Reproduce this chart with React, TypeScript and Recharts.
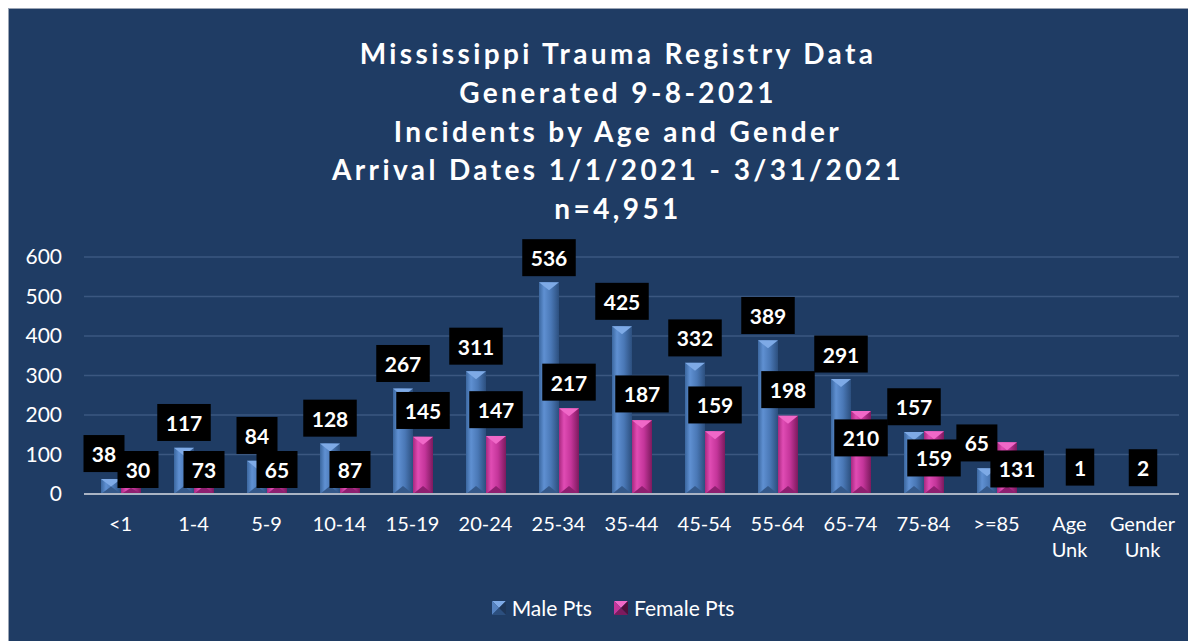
import React from 'react';
import { BarChart, Bar, XAxis, YAxis, CartesianGrid, LabelList } from 'recharts';

const ageGroups = ['<1', '1-4', '5-9', '10-14', '15-19', '20-24', '25-34', '35-44', '45-54', '55-64', '65-74', '75-84', '>=85', 'Age Unk', 'Gender Unk'];
const malePts: (number | null)[] = [38, 117, 84, 128, 267, 311, 536, 425, 332, 389, 291, 157, 65, null, 2];
const femalePts: (number | null)[] = [30, 73, 65, 87, 145, 147, 217, 187, 159, 198, 210, 159, 131, 1, null];
const yTicks = [0, 100, 200, 300, 400, 500, 600];
const titleLines = [
  'Mississippi Trauma Registry Data',
  'Generated 9-8-2021',
  'Incidents by Age and Gender',
  'Arrival Dates 1/1/2021 - 3/31/2021',
  'n=4,951',
];

const data = ageGroups.map((age, i) => ({ age, male: malePts[i], female: femalePts[i] }));

const BG = '#1f3c64';
const FONT = 'Lato, "Open Sans", sans-serif';
const BOX_H = 37;
const boxW = (v: number) => String(v).length * 12.5 + 16;

const makeBar = (gradId: string, cap: string, foot: string) => (props: any) => {
  const { x, y, width, height } = props;
  if (!height || height <= 0.5) return null;
  const bev = Math.min(8, height / 2);
  return (
    <g>
      <rect x={x} y={y} width={width} height={height} fill={`url(#${gradId})`} />
      <polygon points={`${x},${y} ${x + width},${y} ${x + width / 2},${y + bev}`} fill={cap} />
      <polygon points={`${x},${y + height} ${x + width},${y + height} ${x + width / 2},${y + height - bev}`} fill={foot} />
    </g>
  );
};

const LabelBox = ({ cx, bottom, value }: { cx: number; bottom: number; value: number }) => {
  const w = boxW(value);
  return (
    <g>
      <rect x={cx - w / 2} y={bottom - BOX_H} width={w} height={BOX_H} fill="#000" />
      <text x={cx} y={bottom - BOX_H / 2} dominantBaseline="central" textAnchor="middle"
        fill="#fff" fontFamily={FONT} fontWeight={700} fontSize={21}>{value}</text>
    </g>
  );
};

// place both labels of a category: male above its bar, female above or dropped under its bar top
const placeLabels = (index: number, maleX: number, w: number, base: number, ppu: number) => {
  const m = malePts[index];
  const f = femalePts[index];
  const out: { male?: { cx: number; bottom: number }; female?: { cx: number; bottom: number } } = {};
  if (m != null) {
    const top = base - m * ppu;
    out.male = { cx: f == null ? maleX + w : maleX + w / 2, bottom: Math.min(top - 7, base - 6) };
  }
  if (f != null) {
    const top = base - f * ppu;
    let bottom = top - 8;
    if (out.male && bottom - BOX_H < out.male.bottom) bottom = top + 8 + BOX_H;
    bottom = Math.min(bottom, base - 6);
    out.female = { cx: maleX + w * 1.5, bottom };
  }
  if (out.male && out.female) {
    const vOverlap = out.male.bottom - (out.female.bottom - BOX_H);
    const hOverlap = (out.male.cx + boxW(m as number) / 2) - (out.female.cx - boxW(f as number) / 2);
    if (vOverlap > 10 && hOverlap > 7) {
      const s = (hOverlap - 7) / 2;
      out.male.cx -= s;
      out.female.cx += s;
    }
  }
  return out;
};

const PPU = 236 / 600;
const rowOf = (d: any) => d;

const maleLabel = (props: any) => {
  const { x, y, width, height, value } = props;
  const idx = ageGroups.indexOf(value?.age);
  if (idx < 0 || malePts[idx] == null) return null;
  const p = placeLabels(idx, x, width, y + height, PPU).male;
  return p ? <LabelBox cx={p.cx} bottom={p.bottom} value={malePts[idx] as number} /> : null;
};

const femaleLabel = (props: any) => {
  const { x, y, width, height, value } = props;
  const idx = ageGroups.indexOf(value?.age);
  if (idx < 0 || femalePts[idx] == null) return null;
  const p = placeLabels(idx, x - width, width, y + height, PPU).female;
  return p ? <LabelBox cx={p.cx} bottom={p.bottom} value={femalePts[idx] as number} /> : null;
};

const AgeTick = (props: any) => {
  const { x, y, payload } = props;
  const lines = String(payload.value).split(' ');
  return (
    <text x={x} y={y} textAnchor="middle" fill="#fff" fontFamily={FONT} fontSize={20}>
      {lines.map((l, i) => (
        <tspan key={i} x={x} dy={i === 0 ? 37 : 26}>{l}</tspan>
      ))}
    </text>
  );
};

const LegendIcon = ({ light, dark, mid, deep }: { light: string; dark: string; mid: string; deep: string }) => (
  <svg width={14} height={14} style={{ marginRight: 6 }}>
    <polygon points="0,0 14,0 7,7" fill={light} />
    <polygon points="0,0 0,14 7,7" fill={mid} />
    <polygon points="14,0 14,14 7,7" fill={deep} />
    <polygon points="0,14 14,14 7,7" fill={dark} />
  </svg>
);

export default function App() {
  return (
    <div style={{ position: 'relative', width: 1188, height: 633, background: BG, borderTop: '1px solid #9aa4b4', borderLeft: '1px solid #9aa4b4', boxSizing: 'border-box' }}>
      <div style={{ position: 'absolute', left: 159, width: 900, top: 25, textAlign: 'center', color: '#fff', fontFamily: FONT, fontWeight: 700, fontSize: 28, letterSpacing: 3.4, lineHeight: '38.8px' }}>
        {titleLines.map((t) => <div key={t}>{t}</div>)}
      </div>
      <BarChart width={1187} height={632} data={data} barSize={20} barGap={0}
        margin={{ top: 248, right: 17, left: 11, bottom: 87 }}>
        <defs>
          <linearGradient id="maleGrad" x1="0" y1="0" x2="1" y2="0">
            <stop offset="0%" stopColor="#3b679f" />
            <stop offset="25%" stopColor="#5f90d2" />
            <stop offset="60%" stopColor="#4a78b6" />
            <stop offset="100%" stopColor="#2c4f7e" />
          </linearGradient>
          <linearGradient id="femaleGrad" x1="0" y1="0" x2="1" y2="0">
            <stop offset="0%" stopColor="#a8287f" />
            <stop offset="25%" stopColor="#e04cb4" />
            <stop offset="60%" stopColor="#c4359a" />
            <stop offset="100%" stopColor="#7c1a5e" />
          </linearGradient>
        </defs>
        <CartesianGrid vertical={false} stroke="#3b5780" strokeWidth={1.5} />
        <XAxis dataKey="age" interval={0} tick={<AgeTick />} tickLine={false} tickSize={0} tickMargin={0}
          height={60} axisLine={{ stroke: '#aab4c4', strokeWidth: 2 }} />
        <YAxis domain={[0, 600]} ticks={yTicks} width={64} axisLine={false} tickLine={false} tickSize={0} tickMargin={22}
          tick={{ fill: '#fff', fontSize: 21, fontFamily: FONT }} />
        <Bar dataKey="male" name="Male Pts" isAnimationActive={false}
          shape={makeBar('maleGrad', '#7eaae6', '#35598a')}>
          <LabelList dataKey={rowOf} content={maleLabel} />
        </Bar>
        <Bar dataKey="female" name="Female Pts" isAnimationActive={false}
          shape={makeBar('femaleGrad', '#f068c8', '#8e2070')}>
          <LabelList dataKey={rowOf} content={femaleLabel} />
        </Bar>
      </BarChart>
      <div style={{ position: 'absolute', top: 586, left: 0, width: 1208, display: 'flex', justifyContent: 'center', alignItems: 'center', color: '#fff', fontFamily: FONT, fontSize: 21 }}>
        <div style={{ display: 'flex', alignItems: 'center', marginRight: 22 }}>
          <LegendIcon light="#7eaae6" mid="#5582c0" dark="#2c4f7e" deep="#1e3658" />Male Pts
        </div>
        <div style={{ display: 'flex', alignItems: 'center' }}>
          <LegendIcon light="#f068c8" mid="#c4359a" dark="#7c1a5e" deep="#50103c" />Female Pts
        </div>
      </div>
    </div>
  );
}
